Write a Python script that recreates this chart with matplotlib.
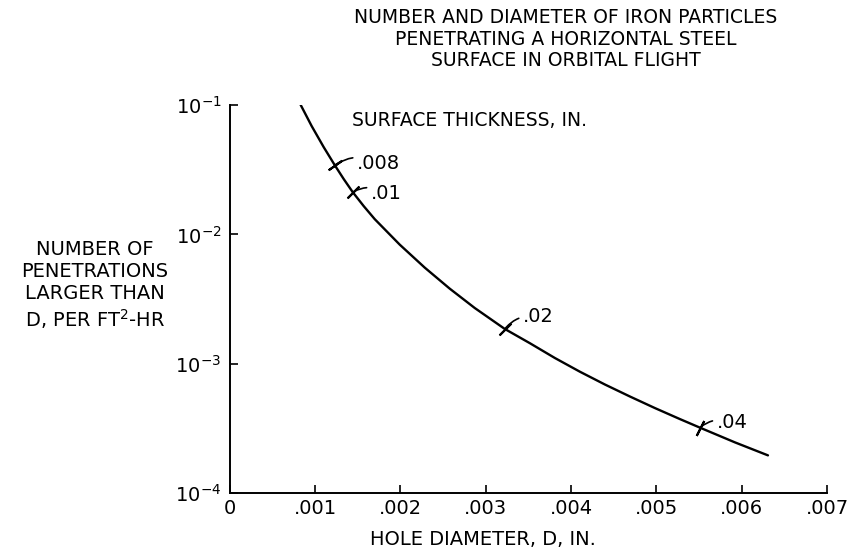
import matplotlib
matplotlib.use("Agg")
import matplotlib.pyplot as plt
import numpy as np

# curve: hole diameter (in.) vs penetrations per ft2-hr
diam = [0.000821, 0.000961, 0.001102, 0.001231, 0.001337, 0.001442, 0.001571,
        0.001700, 0.001993, 0.002286, 0.002579, 0.002872, 0.003224, 0.003518,
        0.003811, 0.004104, 0.004397, 0.004690, 0.004983, 0.005276, 0.005511,
        0.005921, 0.006308]
rate = [0.1036, 0.0688, 0.0473, 0.03436, 0.02677, 0.02124, 0.01655,
        0.01313, 0.00834, 0.00554, 0.00381, 0.00270, 0.00186, 0.001443,
        0.001109, 0.000869, 0.000692, 0.000559, 0.000455, 0.000374, 0.000321,
        0.000247, 0.000196]

# thickness marks on the curve
thick_lbl = [".008", ".01", ".02", ".04"]
thick_x = [0.001231, 0.001442, 0.003224, 0.005511]
thick_y = [0.03436, 0.02124, 0.00186, 0.000321]

xticks = [0, 0.001, 0.002, 0.003, 0.004, 0.005, 0.006, 0.007]
xtick_lbl = ["0", ".001", ".002", ".003", ".004", ".005", ".006", ".007"]
yticks = [1e-4, 1e-3, 1e-2, 1e-1]

plt.rcParams['font.family'] = ['DejaVu Sans']
fig = plt.figure(figsize=(8.57, 5.56), dpi=100)
ax = fig.add_axes([0.268, 0.113, 0.697, 0.698])

ax.plot(diam, rate, color='black', lw=1.7, solid_capstyle='round', solid_joinstyle='round')
ax.set_yscale('log')
ax.set_xlim(0, 0.007)
ax.set_ylim(1e-4, 1e-1)

ax.set_xticks(xticks)
ax.set_xticklabels(xtick_lbl, fontsize=14)
ax.set_yticks(yticks)
ax.yaxis.set_minor_locator(matplotlib.ticker.NullLocator())
ax.tick_params(direction='in', length=6, width=1.2, labelsize=14)
ax.tick_params(axis='x', pad=4)
ax.tick_params(axis='y', pad=6)
for s in ['top', 'right']:
    ax.spines[s].set_visible(False)
for s in ['left', 'bottom']:
    ax.spines[s].set_linewidth(1.4)

# marks across the curve + labels with little leader lines
angles = [-55, -45, -45, -27]
offs = [(16, 1.5), (13, -0.7), (13, 8.6), (12, 3.6)]
for lb, x, y, a, o in zip(thick_lbl, thick_x, thick_y, angles, offs):
    ax.plot([x], [y], marker=(2, 2, a), ms=12, mew=1.5, color='black')
    ax.annotate(lb, xy=(x, y), xytext=o, textcoords='offset points',
                fontsize=14, va='center', ha='left',
                arrowprops=dict(arrowstyle='-', lw=1.2, color='black',
                                shrinkA=1, shrinkB=1,
                                connectionstyle='arc3,rad=0.3'))

ax.text(0.00143, 0.0766, "SURFACE THICKNESS, IN.", fontsize=13.5, ha='left', va='center')

fig.text(0.66, 0.985, "NUMBER AND DIAMETER OF IRON PARTICLES\nPENETRATING A HORIZONTAL STEEL\nSURFACE IN ORBITAL FLIGHT",
         ha='center', va='top', fontsize=13.5, linespacing=1.15)
fig.text(0.111, 0.486, "NUMBER OF\nPENETRATIONS\nLARGER THAN\nD, PER FT$^2$-HR",
         ha='center', va='center', fontsize=14, linespacing=1.2)
fig.text(0.564, 0.029, "HOLE DIAMETER, D, IN.", ha='center', va='center', fontsize=14)

fig.savefig("out.png", dpi=100)
